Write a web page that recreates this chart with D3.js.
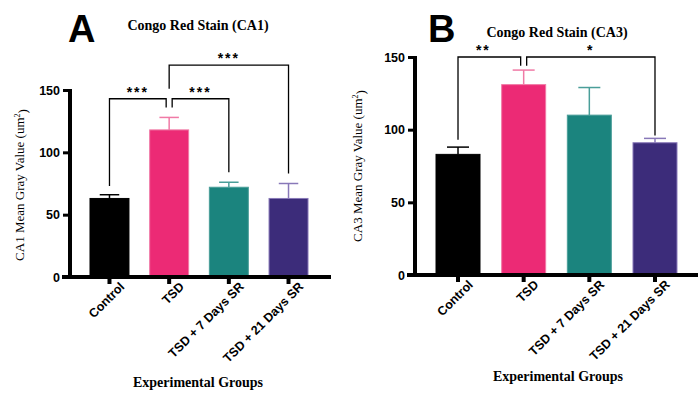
<!DOCTYPE html>
<html>
<head>
<meta charset="utf-8">
<script src="https://cdn.jsdelivr.net/npm/d3@7"></script>
<style>
  body { margin: 0; background: #fff; }
  .tick text { font-family: Arial, "Liberation Sans", sans-serif; font-weight: bold; font-size: 12.5px; fill: #000; }
</style>
</head>
<body>
<div id="chart"></div>
<script>
// groups shared by both panels
var groups = ["Control", "TSD", "TSD + 7 Days SR", "TSD + 21 Days SR"];
var colors = ["#000000", "#ec2a75", "#1b847e", "#3c2c7a"];
var errColors = ["#000000", "#f07aa6", "#4a9e99", "#8878b8"];
var yTicks = [0, 50, 100, 150];

// panel A (CA1)
var meanA = [63, 118, 72, 63];
var semA = [3, 10, 4, 12];
// panel B (CA3)
var meanB = [83, 131, 110, 91];
var semB = [5, 10, 19, 3];

var svg = d3.select("#chart").append("svg")
    .attr("width", 698)
    .attr("height", 394);

function drawPanel(p) {
  var g = svg.append("g");

  var x = d3.scaleBand()
      .domain(groups)
      .range([p.x0, p.x1])
      .paddingInner(p.padIn)
      .paddingOuter(p.padOut);

  var y = d3.scaleLinear()
      .domain([0, 150])
      .range([p.yBottom, p.yTop]);

  // bars
  g.selectAll("rect.bar")
    .data(p.means)
    .enter().append("rect")
      .attr("class", "bar")
      .attr("x", function(d, i) { return x(groups[i]); })
      .attr("y", function(d) { return y(d); })
      .attr("width", x.bandwidth())
      .attr("height", function(d) { return y(0) - y(d); })
      .style("fill", function(d, i) { return colors[i]; })
      .style("stroke", function(d, i) { return errColors[i]; })
      .style("stroke-width", 1);

  // error bars (upper only)
  var capW = x.bandwidth() * 0.5;
  p.means.forEach(function(m, i) {
    var cx = x(groups[i]) + x.bandwidth() / 2;
    g.append("line")
      .attr("x1", cx).attr("x2", cx)
      .attr("y1", y(m)).attr("y2", y(m + p.sems[i]))
      .attr("stroke", errColors[i]).attr("stroke-width", 1.5);
    g.append("line")
      .attr("x1", cx - capW / 2).attr("x2", cx + capW / 2)
      .attr("y1", y(m + p.sems[i])).attr("y2", y(m + p.sems[i]))
      .attr("stroke", errColors[i]).attr("stroke-width", 1.5);
  });

  // y axis
  var yAxis = g.append("g")
      .attr("transform", "translate(" + p.x0 + ",0)")
      .call(d3.axisLeft(y).tickValues(yTicks).tickSize(7).tickPadding(3));
  yAxis.select(".domain").attr("stroke-width", 4).attr("d", "M0," + (p.yBottom + 2) + "V" + (p.yTop - 1));
  yAxis.selectAll(".tick line").attr("stroke-width", 3);

  // x axis
  var xAxis = g.append("g")
      .attr("transform", "translate(0," + p.yBottom + ")")
      .call(d3.axisBottom(x).tickSize(7).tickSizeOuter(0).tickPadding(4));
  xAxis.select(".domain").attr("stroke-width", 4).attr("d", "M" + (p.x0 - 8) + ",0H" + p.xEnd);
  xAxis.selectAll(".tick line").attr("stroke-width", 4);
  xAxis.selectAll(".tick text")
      .attr("text-anchor", "end")
      .attr("dx", "0.3em")
      .attr("dy", "0.6em")
      .attr("transform", "rotate(-45)");

  // significance brackets
  p.brackets.forEach(function(b) {
    var xa = x(groups[b.from]) + x.bandwidth() / 2 + (b.offFrom || 0);
    var xb = x(groups[b.to]) + x.bandwidth() / 2 + (b.offTo || 0);
    g.append("path")
      .attr("d", "M" + xa + "," + y(b.legA) + "V" + y(b.level) + "H" + xb + "V" + y(b.legB))
      .attr("fill", "none")
      .attr("stroke", "#000")
      .attr("stroke-width", 1.3);
    g.append("text")
      .attr("x", (xa + xb) / 2 + (b.starDx || 0))
      .attr("y", y(b.level) - 2)
      .attr("text-anchor", "middle")
      .style("font-family", "Arial, sans-serif")
      .style("font-size", "14px")
      .style("font-weight", "bold")
      .style("letter-spacing", "2px")
      .text(b.stars);
  });

  // panel letter
  g.append("text")
    .attr("x", p.letterX).attr("y", p.letterY)
    .style("font-family", "Arial, 'Liberation Sans', sans-serif")
    .style("font-weight", "bold")
    .style("font-size", "38px")
    .text(p.letter);

  // title
  g.append("text")
    .attr("x", p.titleX).attr("y", p.titleY)
    .attr("text-anchor", "middle")
    .style("font-family", "'Liberation Serif', 'Times New Roman', serif")
    .style("font-weight", "bold")
    .style("font-size", "14px")
    .text(p.title);

  // y label
  var yl = g.append("text")
    .attr("transform", "translate(" + p.yLabelX + "," + p.yLabelY + ") rotate(-90)")
    .attr("text-anchor", "middle")
    .style("font-family", "'Liberation Serif', 'Times New Roman', serif")
    .style("font-size", "13px");
  yl.append("tspan").text(p.yLabel + " (um");
  yl.append("tspan").attr("dy", "-0.5em").style("font-size", "8px").text("2");
  yl.append("tspan").attr("dy", "0.5em").text(")");

  // x label
  g.append("text")
    .attr("x", p.xLabelX).attr("y", p.xLabelY)
    .attr("text-anchor", "middle")
    .style("font-family", "'Liberation Serif', 'Times New Roman', serif")
    .style("font-weight", "bold")
    .style("font-size", "14px")
    .text("Experimental Groups");
}

drawPanel({
  means: meanA, sems: semA,
  x0: 70, x1: 328, xEnd: 331, padIn: 0.347, padOut: 0.335,
  yBottom: 277, yTop: 90,
  letter: "A", letterX: 68, letterY: 42,
  title: "Congo Red Stain (CA1)", titleX: 198, titleY: 30,
  yLabel: "CA1 Mean Gray Value", yLabelX: 24, yLabelY: 185,
  xLabelX: 198, xLabelY: 387,
  brackets: [
    {from: 0, to: 1, offTo: -3, level: 143, legA: 73, legB: 136, stars: "***"},
    {from: 1, to: 2, offFrom: 3, level: 143, legA: 136, legB: 84, stars: "***"},
    {from: 1, to: 3, level: 170, legA: 151, legB: 83, stars: "***"}
  ]
});

drawPanel({
  means: meanB, sems: semB,
  x0: 415, x1: 698, xEnd: 698, padIn: 0.33, padOut: 0.32,
  yBottom: 275, yTop: 57,
  letter: "B", letterX: 428, letterY: 42,
  title: "Congo Red Stain (CA3)", titleX: 557, titleY: 37,
  yLabel: "CA3 Mean Gray Value", yLabelX: 362, yLabelY: 166,
  xLabelX: 558, xLabelY: 381,
  brackets: [
    {from: 0, to: 1, offTo: -3, level: 150, legA: 93, legB: 144, stars: "**", starDx: -6},
    {from: 1, to: 3, offFrom: 3, level: 150, legA: 144, legB: 96, stars: "*"}
  ]
});
</script>
</body>
</html>
